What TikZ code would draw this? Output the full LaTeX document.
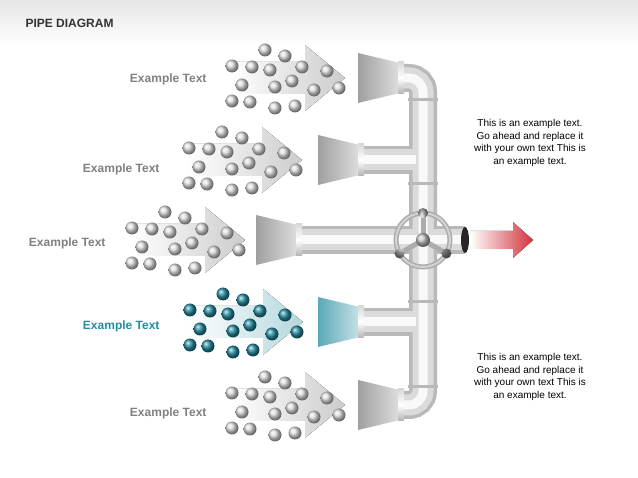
\documentclass[tikz,border=0pt]{standalone}
\usepackage{fontspec}
\setmainfont{Liberation Sans}
\usetikzlibrary{positioning}

\definecolor{pipeteal}{RGB}{38,140,160}
\definecolor{labelgray}{RGB}{128,128,128}
\definecolor{arrowred}{RGB}{210,50,60}

\tikzset{
  rowtext/.style={font=\fontsize{12}{14}\selectfont\bfseries, text=labelgray, anchor=east},
  note/.style={font=\fontsize{10}{12.5}\selectfont, align=center},
}

% Pfeil mit Kugeln: Spitze x, Mitte y, Pfeilfarbe, Kugelfarbe
\newcommand{\dotarrow}[4]{
  \fill[left color=white, right color=#3, draw=none]
    (#1-115,#2-16) -- (#1-40,#2-16) -- (#1-40,#2-33) -- (#1,#2) -- (#1-40,#2+33) -- (#1-40,#2+16) -- (#1-115,#2+16) -- cycle;
  \foreach \dx/\dy in {-80/-28,-60/-22,-113/-12,-93/-11,-75/-8,-43/-11,-18/-7,-103/7,-70/9,-53/3,-31/12,-6/10,-113/23,-95/24,-70/30,-50/28}
    \shade[ball color=#4] (#1+\dx,#2+\dy) circle (6.5);
}

% Trichter: schmales Ende x, Mitte y, Farbe
\newcommand{\funnel}[3]{
  \shade[left color=#3!75, right color=#3!25] (#1-42,#2-25) -- (#1,#2-15) -- (#1,#2+15) -- (#1-42,#2+25) -- cycle;
  \shade[top color=gray!30, bottom color=gray!60, middle color=white] (#1-2,#2-16) rectangle (#1+4,#2+16);
}

\begin{document}
\begin{tikzpicture}[x=1pt, y=-1pt]
  \useasboundingbox (0,0) rectangle (638,478);

  % Kopfzeile
  \shade[top color=gray!20, bottom color=white] (0,0) rectangle (638,45);
  \node[anchor=west, font=\fontsize{12}{14}\selectfont\bfseries, text=black!80] (title) at (22,23) {PIPE DIAGRAM};

  % Pfeile
  \dotarrow{345}{78}{gray!40}{gray!25}
  \dotarrow{302}{160}{gray!40}{gray!25}
  \dotarrow{245}{240}{gray!40}{gray!25}
  \dotarrow{303}{322}{pipeteal!35}{pipeteal}
  \dotarrow{345}{405}{gray!40}{gray!25}

  % Texte
  \node[rowtext] (t1) at (210,79) {Example Text};
  \node[rowtext] (t2) at (163,169) {Example Text};
  \node[rowtext] (t3) at (109,243) {Example Text};
  \node[rowtext, text=pipeteal] (t4) at (163,326) {Example Text};
  \node[rowtext] (t5) at (210,413) {Example Text};

  % Rohre
  \foreach \w/\c in {28/gray!55, 21/gray!28, 9/gray!5}{
    \draw[line width=\w, color=\c, rounded corners=14] (400,78) -- (423,78) -- (423,405) -- (400,405);
    \draw[line width=\w, color=\c] (360,160) -- (416,160);
    \draw[line width=\w, color=\c] (360,322) -- (416,322);
    \draw[line width=\w, color=\c] (298,240) -- (465,240);
  }
  % Muffen
  \foreach \y in {98,182,300,385}
    \fill[gray!55] (408,\y) rectangle (438,\y+3);

  % Rohröffnung
  \fill[black!85] (465,240) ellipse (4 and 13);

  % Trichter
  \funnel{400}{78}{gray}
  \funnel{360}{160}{gray}
  \funnel{298}{240}{gray}
  \funnel{360}{322}{pipeteal}
  \funnel{400}{405}{gray}

  % Ventil
  \draw[gray!65, line width=5] (423,240) circle (27);
  \draw[gray!35, line width=2] (423,240) circle (27);
  \foreach \a in {90,210,330}{
    \draw[gray!65, line width=5] (423,240) -- ++(\a:-27);
    \shade[ball color=gray!50] (423,240) ++(\a:-27) circle (5);
  }
  \shade[ball color=gray!50] (423,240) circle (7);

  % roter Pfeil
  \fill[left color=white, right color=arrowred] (470,231) -- (513,231) -- (513,222) -- (533,240) -- (513,258) -- (513,249) -- (470,249) -- cycle;

  % Hinweise
  \node[note] (n1) at (530,143) {This is an example text.\\Go ahead and replace it\\with your own text This is\\an example text.};
  \node[note] (n2) at (530,377) {This is an example text.\\Go ahead and replace it\\with your own text This is\\an example text.};
\end{tikzpicture}
\end{document}
